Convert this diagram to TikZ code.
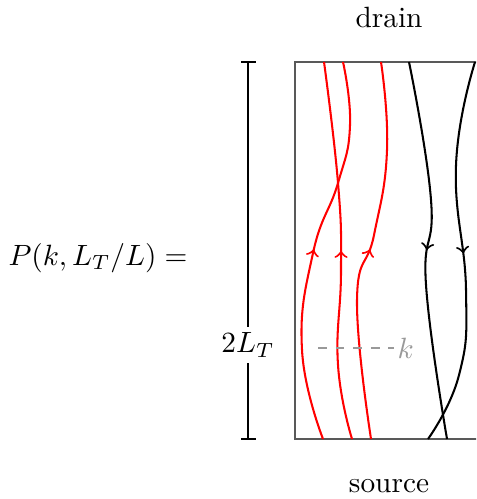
\documentclass[tikz,border=0pt]{standalone}
\usetikzlibrary{decorations.markings}
\begin{document}
\begin{tikzpicture}[x=0.341pt,y=-0.341pt,
  flow/.style={line width=0.7pt,postaction={decorate},
    decoration={markings,mark=at position #1 with {\arrow{>}}}},
  flow/.default=0.5]
\useasboundingbox (0,0) rectangle (476,499);
\node (drain) at (389,17) {drain};
\node (source) at (389,486) {source};
\node (P) at (98,258) {$P(k,L_T/L)=$};
% box
\begin{scope}
\clip (0,0) rectangle (476,499);
\draw[line width=0.5pt,black!65] (480,62) -- (295,62) -- (295,439) -- (480,439);
% red lines (upwards)
\draw[flow=0.5,red] plot[smooth,tension=0.8] coordinates {(352,439) (338,365) (341,270) (338,183) (324,62)};
\draw[flow=0.5,red] plot[smooth,tension=0.8] coordinates {(323,439) (302,350) (313,253) (338,183) (350,125) (343,62)};
\draw[flow=0.505,red] plot[smooth,tension=0.8] coordinates {(371,439) (357,300) (374,235) (387,150) (381,62)};
% black lines (downwards)
\draw[flow=0.5,black] plot[smooth,tension=0.8] coordinates {(409,62) (431,200) (426,285) (447,439)};
\draw[flow=0.5,black] plot[smooth,tension=0.8] coordinates {(475,62) (456,165) (466,290) (459,375) (428,439)};
\end{scope}
% scale bar
\draw[line width=0.4pt] (248,62) -- (248,439);
\draw[line width=0.4pt] (241,62) -- (256,62);
\draw[line width=0.4pt] (241,439) -- (256,439);
\node[fill=white,inner sep=2pt] (len) at (248,345) {$2L_T$};
% k marker
\coordinate (k0) at (318,348);
\node[black!40,inner sep=1pt,anchor=west] (k) at (394,348) {$k$};
\draw[black!40,dashed,line width=0.5pt] (k0) -- (k.west);
\end{tikzpicture}
\end{document}
